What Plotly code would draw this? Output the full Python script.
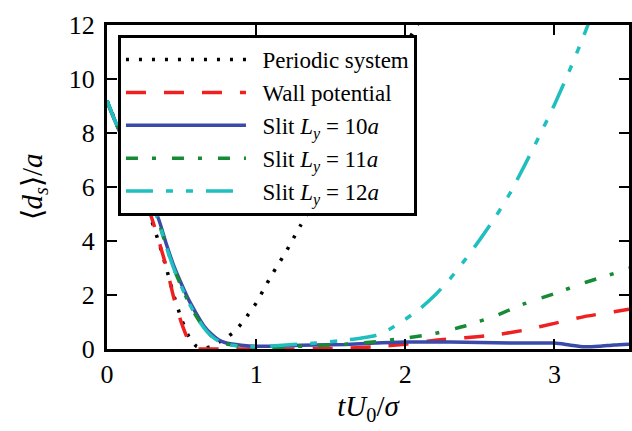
import plotly.graph_objects as go

# ---- data ----
x_per = [0, 0.1, 0.2, 0.3, 0.35, 0.4, 0.45, 0.5, 0.55, 0.6, 0.65, 0.7, 0.75, 0.8, 0.85, 0.9, 0.95, 1.0,
         1.05, 1.1, 1.15, 1.2, 1.25, 1.3, 1.4, 1.6, 1.8, 2.0, 2.2]
y_per = [9.2, 7.85, 6.4, 4.75, 3.9, 2.95, 1.95, 1.1, 0.45, 0.1, 0.03, 0.1, 0.25, 0.42, 0.63, 0.93, 1.3, 1.7,
         2.2, 2.7, 3.15, 3.6, 4.1, 4.6, 5.55, 7.45, 9.35, 11.25, 13.1]

x_wall = [0, 0.05, 0.1, 0.15, 0.2, 0.25, 0.3, 0.35, 0.4, 0.45, 0.5, 0.55, 0.6, 0.7, 0.8, 1.0, 1.2, 1.4, 1.6,
          1.8, 2.0, 2.2, 2.4, 2.6, 2.8, 3.0, 3.2, 3.4, 3.5]
y_wall = [9.15, 8.5, 7.8, 7.1, 6.35, 5.6, 4.85, 3.95, 3.0, 1.85, 0.96, 0.28, 0.02, 0.0, 0.0, 0.0, 0.0, 0.01, 0.03,
          0.08, 0.18, 0.32, 0.42, 0.52, 0.7, 0.95, 1.2, 1.38, 1.47]

x_s10 = [0, 0.05, 0.1, 0.15, 0.2, 0.25, 0.3, 0.35, 0.4, 0.45, 0.5, 0.55, 0.6, 0.65, 0.7, 0.75, 0.8, 0.9, 1.0,
         1.2, 1.4, 1.6, 1.8, 2.0, 2.2, 2.4, 2.6, 2.8, 3.0, 3.1, 3.2, 3.3, 3.4, 3.5]
y_s10 = [9.2, 8.5, 7.85, 7.2, 6.6, 6.0, 5.45, 4.75, 3.85, 3.05, 2.4, 1.8, 1.3, 0.85, 0.55, 0.33, 0.22, 0.14, 0.1,
         0.12, 0.15, 0.17, 0.22, 0.26, 0.26, 0.25, 0.23, 0.22, 0.22, 0.15, 0.08, 0.1, 0.15, 0.18]

x_s11 = [0, 0.05, 0.1, 0.15, 0.2, 0.25, 0.3, 0.35, 0.4, 0.45, 0.5, 0.55, 0.6, 0.65, 0.7, 0.75, 0.8, 0.9, 1.0,
         1.2, 1.4, 1.6, 1.8, 2.0, 2.2, 2.4, 2.6, 2.8, 3.0, 3.2, 3.4, 3.5]
y_s11 = [9.2, 8.5, 7.85, 7.2, 6.6, 6.0, 5.4, 4.65, 3.75, 2.95, 2.3, 1.7, 1.2, 0.78, 0.48, 0.28, 0.18, 0.1, 0.06,
         0.08, 0.13, 0.18, 0.27, 0.4, 0.58, 0.85, 1.22, 1.68, 2.05, 2.45, 2.8, 3.0]

x_s12 = [0, 0.05, 0.1, 0.15, 0.2, 0.25, 0.3, 0.35, 0.4, 0.45, 0.5, 0.55, 0.6, 0.65, 0.7, 0.75, 0.8, 0.9, 1.0,
         1.2, 1.4, 1.6, 1.7, 1.8, 1.9, 2.0, 2.1, 2.2, 2.3, 2.4, 2.5, 2.6, 2.7, 2.8, 2.9, 3.0, 3.1, 3.2, 3.3]
y_s12 = [9.2, 8.5, 7.85, 7.2, 6.6, 6.0, 5.4, 4.65, 3.75, 2.95, 2.3, 1.7, 1.2, 0.78, 0.48, 0.28, 0.18, 0.1, 0.08,
         0.15, 0.22, 0.33, 0.4, 0.5, 0.75, 1.1, 1.5, 2.0, 2.6, 3.3, 4.05, 4.85, 5.75, 6.8, 7.9, 9.05, 10.3, 11.65, 13.1]

names = ["Periodic system", "Wall potential",
         "Slit <i>L<sub>y</sub></i> = 10<i>a</i>",
         "Slit <i>L<sub>y</sub></i> = 11<i>a</i>",
         "Slit <i>L<sub>y</sub></i> = 12<i>a</i>"]
colors = ["#000000", "#ee2020", "#3a4aa8", "#178a35", "#1fbfbf"]
dashes = ["3px,10px", "20px,18px", "solid", "12px,14px,4px,16px", "27px,13px,7px,13px,7px,13px"]
widths = [3.5, 3.5, 3.5, 3.5, 3.5]
x_ticks = [0, 1, 2, 3]
y_ticks = [0, 2, 4, 6, 8, 10, 12]

series = [(x_per, y_per), (x_wall, y_wall), (x_s10, y_s10), (x_s11, y_s11), (x_s12, y_s12)]

PAD = "\u00a0\u00a0"
SERIF = "serif"

fig = go.Figure()
for i, ((xs, ys), n, c, d, w) in enumerate(zip(series, names, colors, dashes, widths)):
    fig.add_trace(go.Scatter(x=xs, y=ys, mode="lines", name=PAD + n, legendgroup="g%d" % i,
                             line=dict(color=c, dash=d, width=w, shape="spline", smoothing=0.6)))

axis_common = dict(showgrid=False, zeroline=False, showline=True, linecolor="black", linewidth=3,
                   mirror="ticks", ticks="inside", ticklen=10, tickwidth=1.5, tickcolor="black",
                   tickfont=dict(family=SERIF, size=26, color="black"))

fig.update_layout(
    width=632, height=431,
    margin=dict(l=107, r=0, t=25, b=82),
    paper_bgcolor="white", plot_bgcolor="white",
    font=dict(family=SERIF, color="black"),
    xaxis=dict(range=[0, 3.5], tickvals=x_ticks, **axis_common,
               title=dict(text="<i>tU</i><sub>0</sub>/<i>σ</i>",
                          font=dict(family=SERIF, size=29, color="black"), standoff=8)),
    yaxis=dict(range=[0, 12], tickvals=y_ticks, **axis_common, ticklabelstandoff=4,
               title=dict(text="⟨<i>d<sub>s</sub></i>⟩/<i>a</i>",
                          font=dict(family=SERIF, size=29, color="black"), standoff=18)),
    legend=dict(x=0.021, y=0.969, xanchor="left", yanchor="top",
                bgcolor="white", bordercolor="black", borderwidth=3,
                itemwidth=120, tracegroupgap=0,
                font=dict(family=SERIF, size=23, color="black")),
    showlegend=True,
)

fig.write_html("out.html")
